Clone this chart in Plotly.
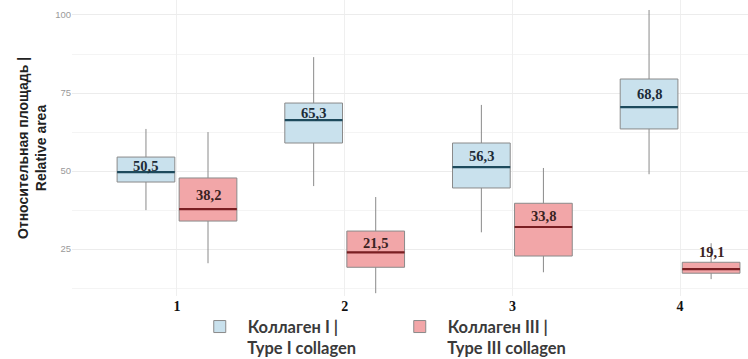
import plotly.graph_objects as go

categories = [1, 2, 3, 4]
tick_labels = ["1", "2", "3", "4"]

# Type I collagen
t1_q1 = [46.5, 59.0, 44.6, 63.5]
t1_med = [49.7, 66.3, 51.3, 70.5]
t1_q3 = [54.5, 71.8, 59.0, 79.5]
t1_low = [37.5, 45.2, 30.4, 49.0]
t1_high = [63.5, 86.5, 71.2, 101.6]
t1_mean = [50.5, 65.3, 56.3, 68.8]

# Type III collagen
t3_q1 = [34.0, 19.2, 22.8, 17.3]
t3_med = [37.8, 24.0, 32.1, 18.6]
t3_q3 = [47.8, 30.8, 39.7, 20.8]
t3_low = [20.5, 10.9, 17.6, 15.4]
t3_high = [62.5, 41.7, 51.0, 26.9]
t3_mean = [38.2, 21.5, 33.8, 19.1]

NB = "\u00a0\u00a0"
series = [
    dict(name=NB + "Коллаген I |<br>" + NB + "Type I collagen", q1=t1_q1, med=t1_med, q3=t1_q3,
         low=t1_low, high=t1_high, mean=t1_mean,
         fill="#c9e1ed", medcol="#1d4a5c", txtcol="#1c2c38"),
    dict(name=NB + "Коллаген III |<br>" + NB + "Type III collagen", q1=t3_q1, med=t3_med, q3=t3_q3,
         low=t3_low, high=t3_high, mean=t3_mean,
         fill="#f2a6a8", medcol="#7a1e22", txtcol="#3a2222"),
]

boxgap = 0.26
boxgroupgap = 0.07
slot = (1 - boxgap) / len(series)
half = slot * (1 - boxgroupgap) / 2

fig = go.Figure()
annotations = []
for i, s in enumerate(series):
    fig.add_trace(go.Box(
        name=s["name"], x=categories, q1=s["q1"], median=s["med"], q3=s["q3"],
        lowerfence=s["low"], upperfence=s["high"],
        fillcolor=s["fill"], line=dict(color="#8a8a8a", width=1),
        whiskerwidth=0, boxpoints=False, offsetgroup=str(i),
        hoverinfo="skip",
    ))
for i, s in enumerate(series):
    off = (i - (len(series) - 1) / 2) * slot
    xs, ys = [], []
    for c, m in zip(categories, s["med"]):
        xs += [c + off - half, c + off + half, None]
        ys += [m, m, None]
    fig.add_trace(go.Scatter(x=xs, y=ys, mode="lines",
                             line=dict(color=s["medcol"], width=2.2),
                             showlegend=False, hoverinfo="skip"))
    for c, m, q3, mn in zip(categories, s["med"], s["q3"], s["mean"]):
        if q3 - m < 4:
            y, ysh = q3, 10
        else:
            y, ysh = (m + q3) / 2, -1
        annotations.append(dict(
            x=c + off, y=y, yshift=ysh, text=f"{mn:.1f}".replace(".", ","),
            showarrow=False, xref="x", yref="y",
            font=dict(family="Liberation Serif", size=14.5, color=s["txtcol"],
                      weight="bold"),
        ))

fig.update_layout(
    width=748, height=359,
    margin=dict(l=72, r=0, t=0, b=63, autoexpand=False),
    paper_bgcolor="white", plot_bgcolor="white",
    boxmode="group", boxgap=boxgap, boxgroupgap=boxgroupgap,
    annotations=annotations,
    legend=dict(orientation="h", x=0.189, xanchor="left", y=-0.045, yanchor="top",
                valign="top", entrywidth=155, entrywidthmode="pixels",
                font=dict(family="Lato", size=16.5, color="#3a3a3a", weight="bold"),
                bgcolor="rgba(0,0,0,0)"),
    xaxis=dict(range=[0.374, 4.405], tickvals=categories, ticktext=tick_labels,
               showgrid=True, gridcolor="#efefef", gridwidth=1, zeroline=False,
               showline=False, ticks="",
               tickfont=dict(family="Liberation Serif", size=14, color="#111111",
                             weight="bold")),
    yaxis=dict(range=[10, 104.8], tickvals=[25, 50, 75, 100],
               showgrid=True, gridcolor="#ececec", gridwidth=1, zeroline=False,
               showline=False, ticks="",
               minor=dict(tickvals=[12.5, 37.5, 62.5, 87.5], showgrid=True,
                          gridcolor="#f4f4f4", gridwidth=1),
               tickfont=dict(family="Liberation Sans", size=9.5, color="#9a9a9a"),
               title=dict(text="Относительная площадь |<br>Relative area",
                          standoff=5,
                          font=dict(family="Liberation Sans", size=14,
                                    color="#222222", weight="bold"))),
)

fig.write_html("out.html")
